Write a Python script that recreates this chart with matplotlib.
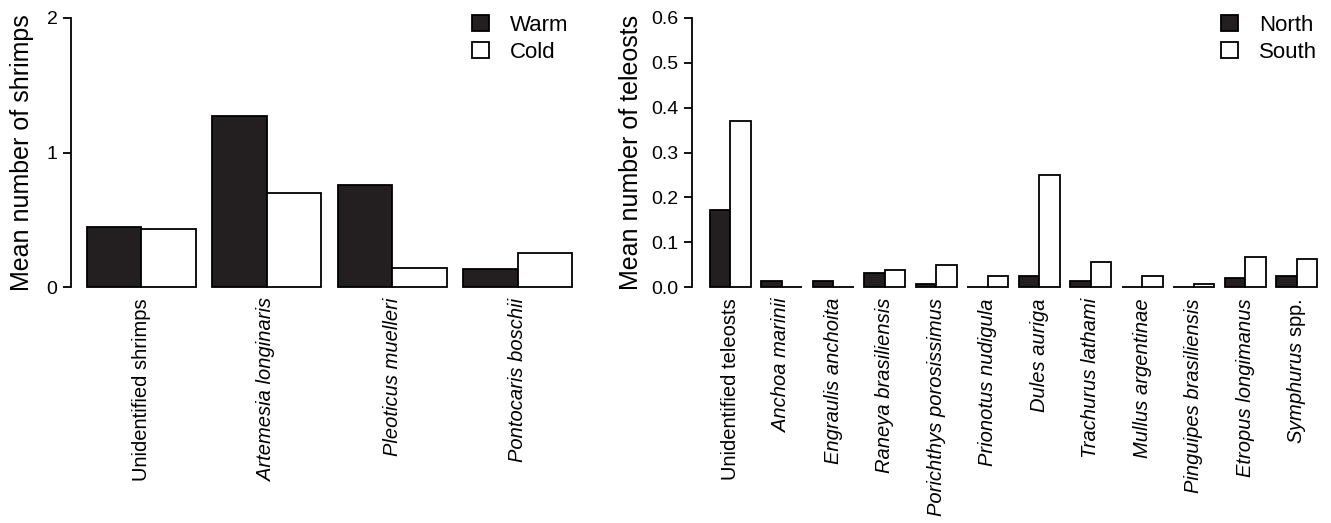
import numpy as np
import matplotlib.pyplot as plt
from matplotlib.patches import Patch

plt.rcParams['font.family'] = ['Liberation Sans', 'DejaVu Sans']
plt.rcParams['mathtext.fontset'] = 'custom'
plt.rcParams['mathtext.rm'] = 'Liberation Sans'
plt.rcParams['mathtext.it'] = 'Liberation Sans:italic'

# shrimps, warm vs cold
shrimp_names = ['Unidentified shrimps', 'Artemesia longinaris',
                'Pleoticus muelleri', 'Pontocaris boschii']
shrimp_italic = [False, True, True, True]
warm = [0.446, 1.274, 0.758, 0.131]
cold = [0.430, 0.700, 0.143, 0.250]

# teleosts, north vs south
teleost_names = ['Unidentified teleosts', 'Anchoa marinii', 'Engraulis anchoita',
                 'Raneya brasiliensis', 'Porichthys porosissimus', 'Prionotus nudigula',
                 'Dules auriga', 'Trachurus lathami', 'Mullus argentinae',
                 'Pinguipes brasiliensis', 'Etropus longimanus',
                 r'$\mathit{Symphurus}$ spp.']
teleost_italic = [False] + [True] * 10 + [False]
north = [0.172, 0.013, 0.013, 0.031, 0.0075, 0.0, 0.025, 0.013, 0.0, 0.0, 0.020, 0.025]
south = [0.370, 0.0, 0.0, 0.038, 0.050, 0.025, 0.250, 0.056, 0.025, 0.0067, 0.068, 0.062]

dark = '#231f20'
lw = 1.3
W, H = 1331, 523
fig = plt.figure(figsize=(W / 100, H / 100), dpi=100)


def panel(rect, names, italic, a, b, step, xlim, ymax, yticks, yticklabels,
          ylabel, labelpad, legend_labels, legend_xy):
    ax = fig.add_axes(rect)
    x = np.arange(len(names)) * step
    ax.bar(x, a, width=1, align='edge', color=dark, edgecolor='black',
           linewidth=lw, clip_on=False)
    ax.bar(x + 1, b, width=1, align='edge', color='white', edgecolor='black',
           linewidth=lw, clip_on=False)
    ax.set_xlim(*xlim)
    ax.set_ylim(0, ymax)
    ax.set_xticks(x + 1)
    ax.set_xticklabels(names, rotation=90, fontsize=14.5)
    for lab, it in zip(ax.get_xticklabels(), italic):
        if it:
            lab.set_fontstyle('italic')
    ax.tick_params(axis='x', length=0, pad=8)
    ax.set_yticks(yticks)
    ax.set_yticklabels(yticklabels, fontsize=14)
    ax.tick_params(axis='y', direction='out', length=5.8, width=lw, pad=4)
    for s in ['top', 'right', 'bottom']:
        ax.spines[s].set_visible(False)
    ax.spines['left'].set_linewidth(lw)
    ax.spines['left'].set_bounds(0, ymax)
    ax.set_ylabel(ylabel, fontsize=18, labelpad=labelpad)
    handles = [Patch(facecolor=dark, edgecolor='black', linewidth=lw),
               Patch(facecolor='white', edgecolor='black', linewidth=lw)]
    ax.legend(handles, legend_labels, loc='upper left', frameon=False,
              bbox_to_anchor=(legend_xy[0] / W, 1 - legend_xy[1] / H),
              bbox_transform=fig.transFigure, borderpad=0, borderaxespad=0,
              handlelength=0.77, handleheight=0.7, handletextpad=0.95,
              labelspacing=0.25, fontsize=16)
    return ax


bottom = (H - 287) / H
height = (287 - 18) / H

# left: spine at 71 px, first bar at 87 px, 54.5 px per bar
panel([71 / W, bottom, (600 - 71) / W, height], shrimp_names, shrimp_italic,
      warm, cold, 2.3, (-0.29, 9.41), 2, [0, 1, 2], ['0', '1', '2'],
      'Mean number of shrimps', 9, ['Warm', 'Cold'], (472, 15))

# right: spine at 692 px, first bar at 709.6 px, 20.6 px per bar
panel([692 / W, bottom, (1325 - 692) / W, height], teleost_names, teleost_italic,
      north, south, 2.5, (-0.854, 29.87), 0.6,
      [0, 0.1, 0.2, 0.3, 0.4, 0.5, 0.6],
      ['0.0', '0.1', '0.2', '0.3', '0.4', '0.5', '0.6'],
      'Mean number of teleosts', 6, ['North', 'South'], (1221, 15))

fig.savefig('out.png', dpi=100)
